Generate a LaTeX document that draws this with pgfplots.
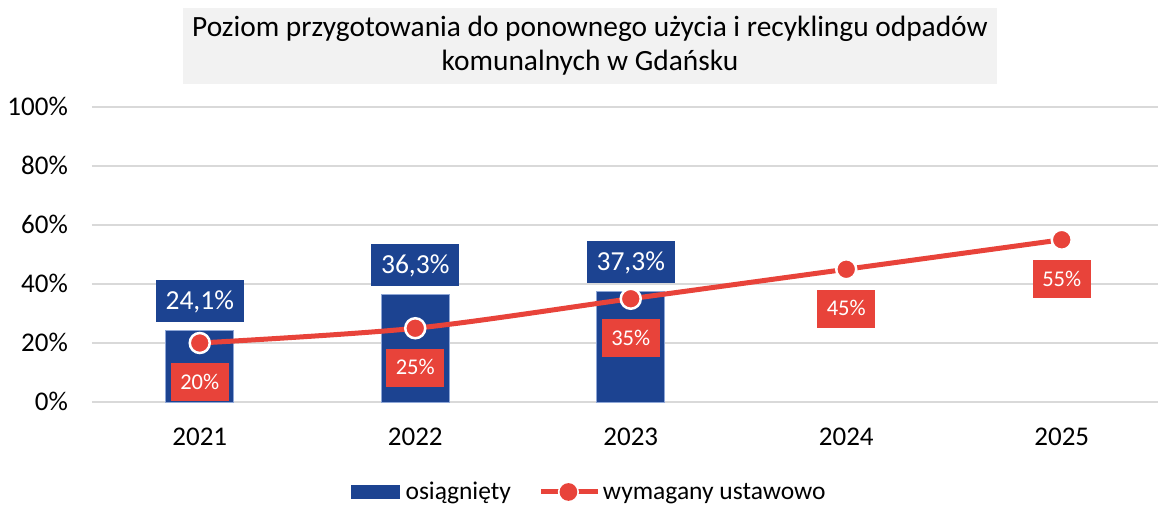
\documentclass[border=0pt]{standalone}
\usepackage{pgfplots}
\pgfplotsset{compat=1.18}
\usepackage{fontspec}
\setmainfont{Carlito}
\definecolor{barblue}{HTML}{1C4391}
\definecolor{lineRed}{HTML}{E8433A}
\definecolor{gridgray}{HTML}{D9D9D9}
\definecolor{titlegray}{HTML}{F2F2F2}
\definecolor{barborder}{HTML}{8EA6D6}
\begin{document}
\begin{tikzpicture}
\path[use as bounding box] (-92pt,-104pt) rectangle (1066pt,402pt);
\begin{axis}[
  at={(0pt,0pt)}, anchor=south west,
  scale only axis, width=1077.5pt, height=295pt,
  xmin=-0.5, xmax=4.5, ymin=0, ymax=100,
  ytick={0,20,40,60,80,100},
  yticklabel={\pgfmathprintnumber{\tick}\%},
  xtick={0,1,2,3,4},
  xticklabels={2021,2022,2023,2024,2025},
  ymajorgrids, grid style={gridgray, line width=1.5pt},
  axis line style={draw=none}, tick style={draw=none},
  /pgf/number format/assume math mode=true,
  tick label style={font=\fontsize{27}{31}\selectfont, inner sep=0pt},
  xticklabel style={anchor=base, yshift=-43.5pt},
  yticklabel style={anchor=base east, xshift=-24pt, yshift=-8.5pt},
  clip=false,
  legend style={draw=none, fill=none, at={(0.4613,-0.305)}, anchor=center,
    font=\fontsize{25.5}{30}\selectfont, legend columns=2,
    /tikz/every even column/.append style={column sep=26pt}},
]
\addplot[ybar, bar shift=0pt, bar width=68pt, fill=barblue, draw=barborder, line width=1pt,
  legend image code/.code={\fill[barblue, draw=none] (0pt,-7pt) rectangle (49pt,7pt);
     \path[draw=none, fill=none] (53pt,0pt);},
  nodes near coords={\pgfmathprintnumber[fixed,precision=1,use comma,fixed zerofill]{\pgfplotspointmeta}\%},
  every node near coord/.style={fill=barblue, text=white, font=\fontsize{27.5}{32}\selectfont,
    anchor=south, yshift=8pt, inner xsep=10pt, inner ysep=12.5pt, text height=17pt, text depth=0pt}]
  coordinates {(0,24.1) (1,36.3) (2,37.3)};
\addlegendentry{osiągnięty}
\addplot[lineRed, line width=5pt, smooth, mark=*, mark size=10pt,
  mark options={fill=lineRed, draw=white, line width=2.5pt},
  legend image code/.code={\draw[lineRed, line width=5pt] (0pt,0pt) -- (57pt,0pt);
     \fill[white] (27pt,0pt) circle (8pt); \fill[lineRed] (27pt,0pt) circle (6.3pt);},
  nodes near coords={\pgfmathprintnumber{\pgfplotspointmeta}\%},
  every node near coord/.style={fill=lineRed, text=white, font=\fontsize{22.5}{27}\selectfont,
    anchor=north, yshift=-19pt, inner xsep=9.5pt, inner ysep=11.9pt, text height=14.2pt, text depth=0pt}]
  coordinates {(0,20) (1,25) (2,35) (3,45) (4,55)};
\addlegendentry{wymagany ustawowo}
\end{axis}
\node[fill=titlegray, minimum width=814pt, minimum height=76pt, align=center,
  font=\fontsize{29.4}{34}\selectfont, inner sep=0pt] at (498pt,356pt)
  {Poziom przygotowania do ponownego użycia i recyklingu odpadów\\komunalnych w Gdańsku};
\end{tikzpicture}
\end{document}
